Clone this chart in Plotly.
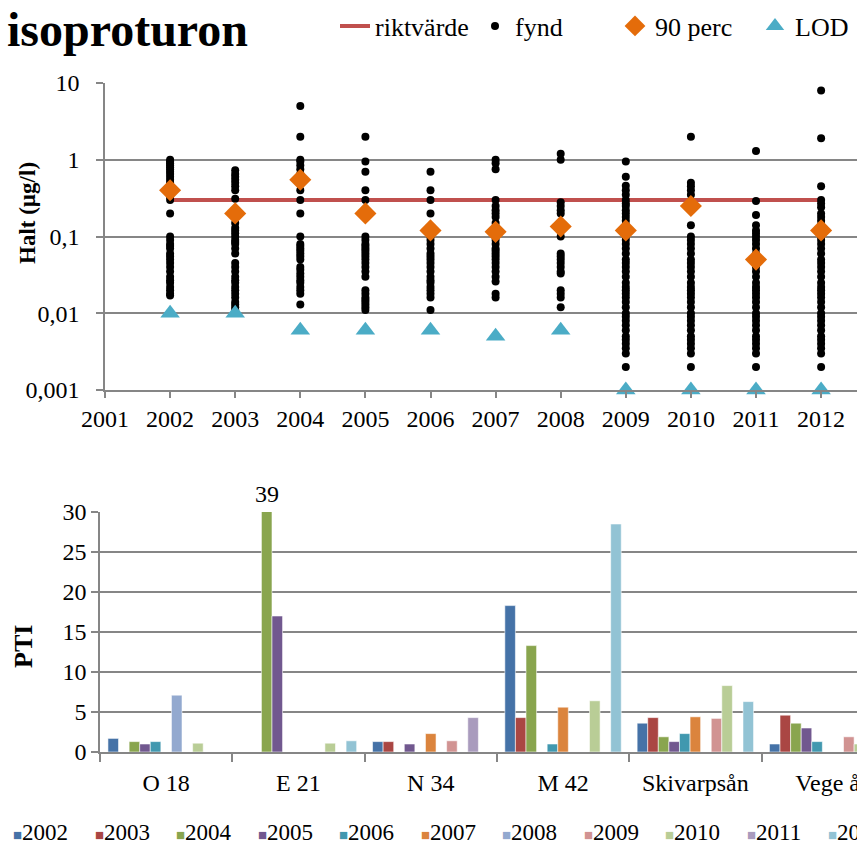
import plotly.graph_objects as go

# ---- top chart: isoproturon concentrations (log scale) ----
years_top = [2002, 2003, 2004, 2005, 2006, 2007, 2008, 2009, 2010, 2011, 2012]

fynd_2002 = [1.0, 0.95, 0.9, 0.85, 0.8, 0.75, 0.7, 0.65, 0.6, 0.55, 0.5, 0.45, 0.4, 0.37, 0.33, 0.3, 0.2,
             0.1, 0.09, 0.08, 0.075, 0.07, 0.06, 0.055, 0.05, 0.045, 0.04, 0.035, 0.03, 0.027, 0.025,
             0.022, 0.02, 0.018, 0.017]
fynd_2003 = [0.73, 0.65, 0.6, 0.55, 0.5, 0.45, 0.4, 0.31, 0.15, 0.13, 0.12, 0.11, 0.1, 0.09, 0.085, 0.08,
             0.07, 0.06, 0.045, 0.04, 0.035, 0.03, 0.027, 0.025, 0.022, 0.02, 0.018, 0.016, 0.014, 0.013,
             0.012, 0.011]
fynd_2004 = [5.0, 2.0, 1.0, 0.95, 0.85, 0.75, 0.65, 0.5, 0.4, 0.3, 0.2, 0.1, 0.08, 0.075, 0.07, 0.065, 0.06,
             0.055, 0.05, 0.04, 0.037, 0.033, 0.03, 0.027, 0.025, 0.022, 0.02, 0.018, 0.013]
fynd_2005 = [2.0, 0.95, 0.7, 0.4, 0.3, 0.1, 0.09, 0.08, 0.075, 0.07, 0.065, 0.06, 0.055, 0.05, 0.045, 0.04,
             0.035, 0.03, 0.02, 0.018, 0.016, 0.015, 0.014, 0.013, 0.012, 0.011]
fynd_2006 = [0.7, 0.4, 0.3, 0.2, 0.1, 0.09, 0.08, 0.07, 0.06, 0.055, 0.05, 0.045, 0.04, 0.035, 0.03, 0.027,
             0.025, 0.022, 0.02, 0.018, 0.016, 0.011]
fynd_2007 = [1.0, 0.9, 0.75, 0.3, 0.25, 0.22, 0.2, 0.18, 0.15, 0.13, 0.1, 0.09, 0.08, 0.07, 0.065, 0.06,
             0.055, 0.05, 0.045, 0.04, 0.035, 0.03, 0.026, 0.018, 0.016]
fynd_2008 = [1.2, 1.0, 0.28, 0.25, 0.22, 0.2, 0.1, 0.06, 0.055, 0.05, 0.045, 0.04, 0.035, 0.033, 0.02,
             0.018, 0.016, 0.012]
fynd_2009 = [0.95, 0.6, 0.46, 0.4, 0.35, 0.3, 0.27, 0.25, 0.22, 0.2, 0.18, 0.16, 0.14, 0.12, 0.1, 0.09,
             0.08, 0.07, 0.06, 0.05, 0.045, 0.04, 0.035, 0.03, 0.025, 0.022, 0.02, 0.018, 0.016, 0.014,
             0.012, 0.01, 0.009, 0.008, 0.007, 0.006, 0.005, 0.0045, 0.004, 0.0035, 0.003, 0.002]
fynd_2010 = [2.0, 0.5, 0.45, 0.4, 0.35, 0.14, 0.1, 0.09, 0.08, 0.07, 0.06, 0.05, 0.045, 0.04, 0.035, 0.03,
             0.025, 0.022, 0.02, 0.018, 0.016, 0.014, 0.012, 0.01, 0.009, 0.008, 0.007, 0.006, 0.005,
             0.0045, 0.004, 0.0035, 0.003, 0.002]
fynd_2011 = [1.3, 0.29, 0.19, 0.14, 0.12, 0.11, 0.1, 0.09, 0.08, 0.07, 0.06, 0.05, 0.045, 0.04, 0.035,
             0.03, 0.025, 0.022, 0.02, 0.018, 0.016, 0.014, 0.012, 0.01, 0.009, 0.008, 0.007, 0.006, 0.005,
             0.0045, 0.004, 0.0035, 0.003, 0.002]
fynd_2012 = [8.0, 1.9, 0.45, 0.3, 0.27, 0.24, 0.2, 0.18, 0.16, 0.14, 0.12, 0.1, 0.09, 0.08, 0.07, 0.06,
             0.05, 0.045, 0.04, 0.035, 0.03, 0.025, 0.022, 0.02, 0.018, 0.016, 0.014, 0.012, 0.01, 0.009,
             0.008, 0.007, 0.006, 0.005, 0.0045, 0.004, 0.0035, 0.003, 0.002]

perc90 = [0.4, 0.2, 0.55, 0.2, 0.12, 0.115, 0.135, 0.12, 0.25, 0.05, 0.12]
lod = [0.01, 0.01, 0.006, 0.006, 0.006, 0.005, 0.006, 0.001, 0.001, 0.001, 0.001]
riktvarde = [0.3] * len(years_top)

# ---- bottom chart: PTI per site and year ----
sites = ["O 18", "E 21", "N 34", "M 42", "Skivarpsån", "Vege å"]
bar_years = ["2002", "2003", "2004", "2005", "2006", "2007", "2008", "2009", "2010", "2011", "2012"]
pti_2002 = [1.7, None, 1.3, 18.3, 3.6, 1.0]
pti_2003 = [None, None, 1.3, 4.3, 4.3, 4.6]
pti_2004 = [1.3, 39, None, 13.3, 1.9, 3.6]
pti_2005 = [1.0, 17.0, 1.0, None, 1.3, 3.0]
pti_2006 = [1.3, None, None, 1.0, 2.3, 1.3]
pti_2007 = [None, None, 2.3, 5.6, 4.4, None]
pti_2008 = [7.1, None, None, None, None, None]
pti_2009 = [None, None, 1.4, None, 4.2, 1.9]
pti_2010 = [1.1, 1.1, None, 6.4, 8.3, 1.0]
pti_2011 = [None, None, 4.3, None, None, None]
pti_2012 = [None, 1.4, None, 28.5, 6.3, None]

bar_colors = ["#4572A7", "#AA4643", "#89A54E", "#71588F", "#4198AF", "#DB843D",
              "#93A9CF", "#D19392", "#B9CD96", "#A99BBD", "#92C3D4"]

W, H = 857, 845
FONT = "Liberation Serif"
GRID = "#868686"
BARGAP = 0.12
PTI_MAX = 30

fynd_all = [fynd_2002, fynd_2003, fynd_2004, fynd_2005, fynd_2006, fynd_2007,
            fynd_2008, fynd_2009, fynd_2010, fynd_2011, fynd_2012]
fx, fy = [], []
for yr, vals in zip(years_top, fynd_all):
    fx += [yr] * len(vals)
    fy += vals

fig = go.Figure()

fig.add_trace(go.Scatter(x=years_top, y=riktvarde, mode="lines", name="riktvärde",
                         line=dict(color="#C0504D", width=4)))
fig.add_trace(go.Scatter(x=fx, y=fy, mode="markers", name="fynd",
                         marker=dict(color="black", size=8)))
fig.add_trace(go.Scatter(x=years_top, y=perc90, mode="markers", name="90 perc",
                         marker=dict(color="#E46C0A", size=17, symbol="diamond")))
fig.add_trace(go.Scatter(x=years_top, y=lod, mode="markers", name="LOD", cliponaxis=False,
                         marker=dict(color="#4BACC6", size=17, symbol="triangle-up")))

pti_all = [pti_2002, pti_2003, pti_2004, pti_2005, pti_2006, pti_2007,
           pti_2008, pti_2009, pti_2010, pti_2011, pti_2012]
for yr, vals, col in zip(bar_years, pti_all, bar_colors):
    fig.add_trace(go.Bar(x=sites, y=vals, name=yr, marker_color=col, showlegend=False,
                         marker_line=dict(color="rgba(255,255,255,0.7)", width=0.8),
                         xaxis="x2", yaxis="y2"))

# label for the bar running off the scale
annotations = []
n = len(bar_years)
for si, site in enumerate(sites):
    for yi, vals in enumerate(pti_all):
        v = vals[si]
        if v is not None and v > PTI_MAX:
            xpos = si + ((yi + 0.5) / n - 0.5) * (1 - BARGAP)
            annotations.append(dict(x=xpos, y=PTI_MAX, xref="x2", yref="y2", text=str(v),
                                    showarrow=False, yanchor="bottom", yshift=3,
                                    font=dict(family=FONT, size=24, color="black")))

# legend of the bar chart (runs off the right edge like the original)
leg_left, leg_step = 12, 81.5
for i, (yr, col) in enumerate(zip(bar_years, bar_colors)):
    annotations.append(dict(x=(leg_left + i * leg_step) / W, y=1 - 832 / H, xref="paper", yref="paper",
                            xanchor="left", yanchor="middle", showarrow=False, borderpad=0,
                            text=f"<span style='color:{col};font-size:15px'>■</span>{yr}",
                            font=dict(family=FONT, size=23, color="black")))

# axis titles
annotations.append(dict(x=27 / W, y=1 - 213 / H, xref="paper", yref="paper", text="Halt (µg/l)",
                        textangle=-90, showarrow=False, xanchor="center", yanchor="middle",
                        font=dict(family=FONT, size=23, color="black", weight="bold")))
annotations.append(dict(x=23 / W, y=1 - 647 / H, xref="paper", yref="paper", text="PTI",
                        textangle=-90, showarrow=False, xanchor="center", yanchor="middle",
                        font=dict(family=FONT, size=26, color="black", weight="bold")))

axis_font = dict(family=FONT, size=24, color="black")

fig.update_layout(
    width=W, height=H,
    margin=dict(l=0, r=0, t=0, b=0, autoexpand=False),
    paper_bgcolor="white", plot_bgcolor="white",
    font=dict(family=FONT, color="black"),
    title=dict(text="isoproturon", x=7 / W, xanchor="left", y=1 - 29 / H, yanchor="middle",
               font=dict(family=FONT, size=48, color="black", weight="bold")),
    barmode="group", bargap=BARGAP, bargroupgap=0,
    legend=dict(orientation="h", x=335 / W, xanchor="left", y=1 - 26 / H, yanchor="middle",
                font=dict(family=FONT, size=26, color="black"), bgcolor="rgba(0,0,0,0)",
                entrywidth=95, entrywidthmode="pixels"),
    xaxis=dict(domain=[105 / W, 1], range=[2001, 2001 + (W - 105) / 65.1], dtick=1, tick0=2001,
               showgrid=False, showline=True, linecolor=GRID, linewidth=1.5,
               ticks="outside", ticklen=6, tickcolor=GRID, tickwidth=1.5,
               tickfont=axis_font, anchor="y"),
    yaxis=dict(domain=[1 - 390 / H, 1 - 83 / H], type="log", range=[-3, 1],
               tickvals=[0.001, 0.01, 0.1, 1, 10], ticktext=["0,001", "0,01", "0,1", "1", "10"],
               showgrid=True, gridcolor=GRID, gridwidth=1.5,
               showline=True, linecolor=GRID, linewidth=1.5,
               ticks="outside", ticklen=7, tickcolor=GRID, tickwidth=1.5,
               tickfont=axis_font, ticklabelstandoff=12, anchor="x"),
    xaxis2=dict(domain=[100 / W, 1], type="category", categoryorder="array", categoryarray=sites,
                range=[-0.5, -0.5 + (W - 100) / 132.3], tickson="boundaries",
                showgrid=False, showline=True, linecolor=GRID, linewidth=1.5,
                ticks="outside", ticklen=8, tickcolor=GRID, tickwidth=1.5,
                tickfont=axis_font, ticklabelstandoff=8, anchor="y2"),
    yaxis2=dict(domain=[1 - 752 / H, 1 - 512 / H], range=[0, PTI_MAX], dtick=5,
                showgrid=True, gridcolor=GRID, gridwidth=1.5, zeroline=False,
                showline=True, linecolor=GRID, linewidth=1.5,
                ticks="outside", ticklen=7, tickcolor=GRID, tickwidth=1.5,
                tickfont=axis_font, anchor="x2"),
    annotations=annotations,
)

# the page's default body margin would shift the figure by 8px
fig.write_html("out.html", config={"displayModeBar": False},
               post_script="document.body.style.margin='0px';")
